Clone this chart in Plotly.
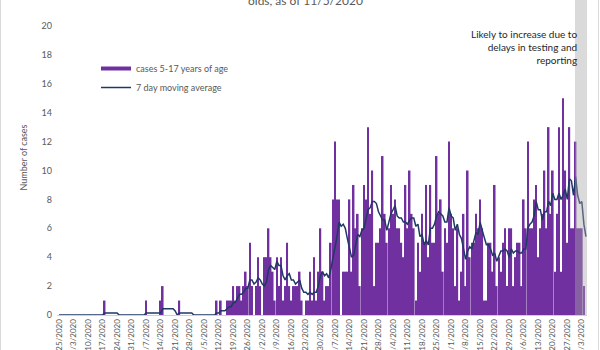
import pandas as pd
import plotly.graph_objects as go

# ---------------- data ----------------
start_date = "2020-02-25"
# daily cases, 5-17 years of age, one value per day from 2/25/2020 to 11/5/2020
cases = (
    [0] * 22 + [1] + [0] * 19 + [1] + [0] * 6 + [1, 2] + [0] * 7 + [1] + [0] * 17 +
    [1, 0, 1, 0, 0, 1, 1, 1, 2, 1, 2, 2, 1, 2, 3, 2, 5, 2, 0, 2, 4, 2, 0,
     4, 4, 6, 4, 3, 1, 4, 2, 4, 1, 2, 5, 2, 1, 2, 2, 2, 3, 1, 0,
     1, 1, 3, 1, 4, 1, 3, 6, 3, 1, 2, 2, 5, 8, 12, 8, 8, 0,
     3, 3, 3, 8, 3, 9, 6, 7, 2, 6, 9, 8, 13, 7, 10, 2, 5, 5, 6, 11, 7, 5, 6, 9,
     7, 8, 6, 6, 5, 4, 9, 6, 10, 7, 6, 1, 5, 3, 7, 5, 9, 4, 9, 5, 5, 11, 7, 8,
     3, 6, 5, 12, 7, 6, 2,
     6, 1, 3, 7, 2, 10, 4, 5, 5, 7, 6, 8, 6, 1, 1, 5, 5, 3, 9, 2, 4, 3, 5, 6,
     2, 6, 6, 2, 4, 5, 5, 2, 8, 6, 12, 6, 6, 8, 9, 4, 6, 7, 10, 6, 13, 7, 10,
     3, 7, 13, 3, 15, 10, 5, 13, 6, 6, 12, 6, 6, 6, 2, 0]
)
dates = pd.date_range(start_date, periods=len(cases), freq="D")
moving_avg = pd.Series(cases).rolling(7, min_periods=1).mean()

tick_dates = pd.date_range(start_date, "2020-11-03", freq="7D")
y_ticks = list(range(0, 21, 2))

bar_name = "cases 5-17 years of age"
line_name = "7 day moving average"
title_text = "olds, as of 11/5/2020"
note_text = "Likely to increase due to<br>delays in testing and<br>reporting"
shade_start = "2020-10-30 17:00"

# ---------------- figure ----------------
PURPLE = "#7030A0"
NAVY = "#1F3864"
GREY_TXT = "#595959"
FONT = "Lato, 'Open Sans', sans-serif"

W, H = 600, 350
ML, MR, MT, MB = 57, 13, 0, 35
pw, ph = W - ML - MR, H - MT - MB

def px_x(p):
    return (p - ML) / pw

def px_y(p):
    return (H - MB - p) / ph

x_start = pd.Timestamp(start_date) - pd.Timedelta(hours=23)
x_end = pd.Timestamp(start_date) + pd.Timedelta(days=254.5)

fig = go.Figure()
fig.add_trace(go.Bar(x=dates, y=cases, name=bar_name, marker=dict(color=PURPLE, line=dict(width=0)),
                     showlegend=False, legendgroup="b"))
fig.add_trace(go.Scatter(x=[None], y=[None], mode="lines", name=bar_name,
                         line=dict(color=PURPLE, width=4), legendgroup="b"))
fig.add_trace(go.Scatter(x=dates, y=moving_avg, mode="lines", name=line_name,
                         line=dict(color=NAVY, width=1.5)))

fig.add_shape(type="rect", xref="x", yref="paper", x0=shade_start, x1=x_end, y0=0, y1=1.05,
              fillcolor="rgba(166,166,166,0.42)", line=dict(width=0), layer="above")
# chart border
fig.add_shape(type="rect", xref="paper", yref="paper", x0=px_x(0.5), x1=px_x(598.5),
              y0=px_y(360), y1=px_y(-10), line=dict(color="#d9d9d9", width=1), layer="below")

fig.add_annotation(text=title_text, xref="paper", yref="paper", x=px_x(305), y=1, yshift=-0.5,
                   xanchor="center", yanchor="middle", showarrow=False,
                   font=dict(family=FONT, size=12, color=GREY_TXT))
fig.add_annotation(text=note_text, xref="paper", yref="paper", x=px_x(579), y=px_y(26),
                   xanchor="right", yanchor="top", align="right", showarrow=False,
                   font=dict(family=FONT, size=10, color="#262626"))

fig.update_layout(
    width=W, height=H,
    margin=dict(l=ML, r=MR, t=MT, b=MB),
    paper_bgcolor="white", plot_bgcolor="white",
    bargap=0.2,
    font=dict(family=FONT, size=9, color=GREY_TXT),
    showlegend=True,
    legend=dict(x=px_x(96), y=px_y(54), xanchor="left", yanchor="top",
                bgcolor="rgba(0,0,0,0)", font=dict(size=9, color=GREY_TXT),
                itemwidth=30, tracegroupgap=0),
    xaxis=dict(type="date", range=[x_start, x_end],
               tickvals=tick_dates, tickformat="%-m/%-d/%Y", tickangle=-90,
               showgrid=False, zeroline=False, showline=True, linecolor="#d0d0d0", linewidth=1,
               ticks="", automargin=False, tickfont=dict(size=8, color=GREY_TXT)),
    yaxis=dict(range=[0, 315 / 14.45], tickvals=y_ticks, showgrid=False, zeroline=False,
               showline=False, ticks="", automargin=False,
               title=dict(text="Number of cases", font=dict(size=9, color=GREY_TXT), standoff=12),
               tickfont=dict(size=9, color=GREY_TXT), ticklabelstandoff=4),
)

fig.write_html("out.html")
